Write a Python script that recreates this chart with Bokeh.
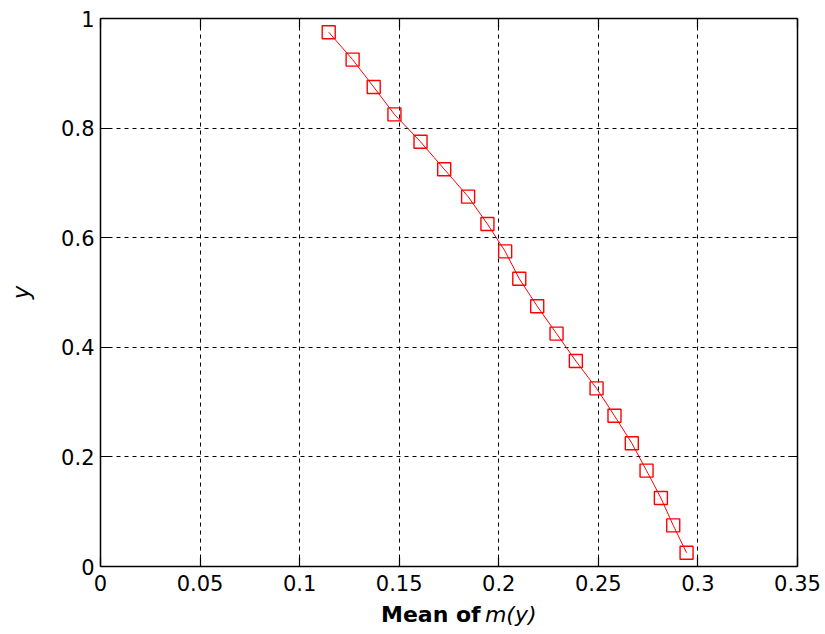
from bokeh.plotting import figure
from bokeh.layouts import column
from bokeh.models import Range1d, FixedTicker, LinearAxis, Label, Grid
from bokeh.embed import file_html
from bokeh.resources import INLINE

# Levels y and the mean of m(y) at each level
y_levels = [0.975, 0.925, 0.875, 0.825, 0.775, 0.725, 0.675, 0.625, 0.575, 0.525,
            0.475, 0.425, 0.375, 0.325, 0.275, 0.225, 0.175, 0.125, 0.075, 0.025]
mean_m = [0.1146, 0.1266, 0.1372, 0.1476, 0.1607, 0.1726, 0.1846, 0.1943, 0.2032, 0.2103,
          0.2193, 0.2290, 0.2387, 0.2491, 0.2581, 0.2668, 0.2742, 0.2814, 0.2876, 0.2943]

x_ticks = [0, 0.05, 0.1, 0.15, 0.2, 0.25, 0.3, 0.35]
y_ticks = [0, 0.2, 0.4, 0.6, 0.8, 1]
x_tick_labels = ["0", "0.05", "0.1", "0.15", "0.2", "0.25", "0.3", "0.35"]
y_tick_labels = ["0", "0.2", "0.4", "0.6", "0.8", "1"]

FONT = "DejaVu Sans"

p = figure(width=825, height=600, output_backend="svg", toolbar_location=None,
           title=None,
           x_range=Range1d(0, 0.35), y_range=Range1d(0, 1),
           x_axis_location=None, y_axis_location=None,
           min_border_left=100, min_border_right=28,
           min_border_top=18, min_border_bottom=34)
p.outline_line_color = None
p.background_fill_color = "white"
p.border_fill_color = "white"


def style_axis(ax, ticks, labels, show_labels):
    ax.ticker = FixedTicker(ticks=ticks)
    ax.major_tick_in = 9
    ax.major_tick_out = 0
    ax.minor_tick_line_color = None
    ax.axis_line_color = "black"
    ax.axis_line_width = 1.5
    ax.major_tick_line_color = "black"
    ax.major_tick_line_width = 1.2
    ax.major_label_text_font = FONT
    ax.major_label_text_font_size = "21px"
    ax.major_label_text_color = "black"
    if show_labels:
        ax.major_label_overrides = {t: s for t, s in zip(ticks, labels)}
    else:
        ax.major_label_overrides = {t: "" for t in ticks}
        ax.major_label_text_font_size = "0px"


xb = LinearAxis()
style_axis(xb, x_ticks, x_tick_labels, True)
xb.major_label_standoff = 8
p.add_layout(xb, "below")

yl = LinearAxis(axis_label="y")
style_axis(yl, y_ticks, y_tick_labels, True)
yl.major_label_standoff = 6
yl.axis_label_text_font = FONT
yl.axis_label_text_font_style = "italic"
yl.axis_label_text_font_size = "23px"
yl.axis_label_text_color = "black"
yl.axis_label_standoff = 24
p.add_layout(yl, "left")

xt = LinearAxis()
style_axis(xt, x_ticks, x_tick_labels, False)
p.add_layout(xt, "above")

yr = LinearAxis()
style_axis(yr, y_ticks, y_tick_labels, False)
p.add_layout(yr, "right")

# Dashed grid at every inner tick
p.grid.visible = False
gx = Grid(dimension=0, ticker=FixedTicker(ticks=x_ticks[1:-1]))
gy = Grid(dimension=1, ticker=FixedTicker(ticks=y_ticks[1:-1]))
for g in (gx, gy):
    g.grid_line_color = "black"
    g.grid_line_width = 1
    g.grid_line_dash = "4 4"
    p.add_layout(g)

# Series: thin red line with hollow square markers
p.line(mean_m, y_levels, line_color="red", line_width=1)
p.scatter(mean_m, y_levels, marker="square", size=13, line_color="red",
          line_width=1.4, fill_color=None)

# Strip under the plot holding the x-axis title in two styles
t = figure(width=825, height=34, output_backend="svg", toolbar_location=None,
           title=None,
           x_range=Range1d(0, 825), y_range=Range1d(0, 34),
           x_axis_location=None, y_axis_location=None,
           min_border=0, min_border_left=0, min_border_right=0,
           min_border_top=0, min_border_bottom=0)
t.outline_line_color = None
t.grid.visible = False
t.background_fill_color = "white"
t.border_fill_color = "white"
t.add_layout(Label(x=450, y=20, text="Mean of", text_align="right",
                   text_baseline="alphabetic", text_font=FONT,
                   text_font_style="bold", text_font_size="22px",
                   text_color="black"))
t.add_layout(Label(x=455, y=20, text="m(y)", text_align="left",
                   text_baseline="alphabetic", text_font=FONT,
                   text_font_style="italic", text_font_size="22px",
                   text_color="black"))

layout = column(p, t, spacing=0)
open("out.html", "w").write(file_html(layout, INLINE))
